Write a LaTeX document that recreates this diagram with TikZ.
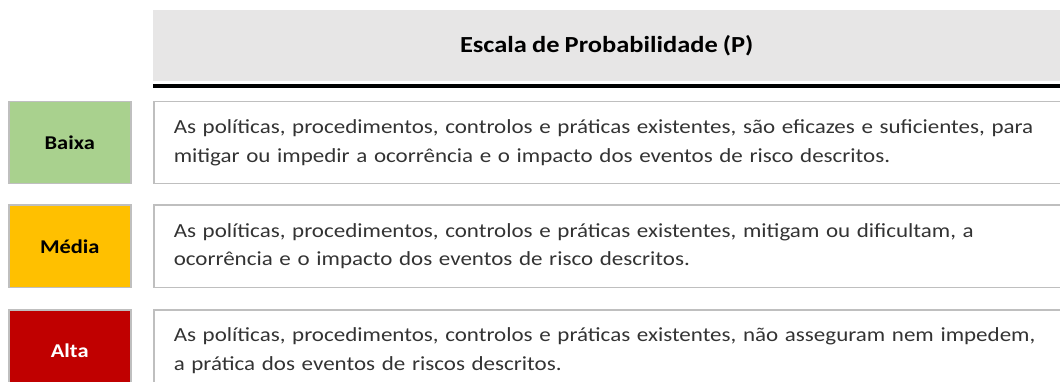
\documentclass[tikz,border=0pt]{standalone}
\usepackage{fontspec}
\setmainfont{Carlito}[FakeStretch=1.15,WordSpace=0.85]
\usepackage{tikz}
\usetikzlibrary{positioning}
\usepackage{xcolor}
\definecolor{lowgreen}{HTML}{A9D18E}
\definecolor{midyellow}{HTML}{FFC000}
\definecolor{highred}{HTML}{C00000}
\definecolor{headgray}{HTML}{E7E6E6}
\definecolor{boxgray}{HTML}{BFBFBF}

\begin{document}
\begin{tikzpicture}[
			% GLOBAL CFG
			x=1pt, y=-1pt,
			font=\fontsize{20}{28.5}\selectfont,
			% Styles
			header/.style={% For the title bar
				rectangle,
				fill=headgray,
				minimum width=907pt,
				minimum height=71pt,
				inner sep=0pt,
				font=\fontsize{23}{26}\selectfont\bfseries,
			},
			level/.style={% For the coloured level boxes
				rectangle,
				draw=boxgray,
				line width=1.5pt,
				minimum width=122pt,
				minimum height=82pt,
				inner sep=0pt,
				font=\fontsize{19.5}{24}\selectfont\bfseries,
			},
			desc/.style={% For the description boxes
				rectangle,
				draw=boxgray,
				line width=1.5pt,
				minimum width=910pt,
				minimum height=82pt,
				text width=900pt,
				inner xsep=20pt,
				inner ysep=0pt,
				align=left,
				text=black!80,
			},
			]
			\useasboundingbox (0,0) rectangle (1060,382);
			
			% Draw the title bar
			\node [header, anchor=north west] (head) at (153,10) {Escala de Probabilidade (P)};
			\draw [line width=3.5pt] ([yshift=-4.5pt]head.south west) -- ([yshift=-4.5pt]head.south east);
			
			% Draw the levels
			\node [level, fill=lowgreen, anchor=north west] (low) at (8,101) {Baixa};
			\node [level, fill=midyellow, below=20pt of low] (mid) {Média};
			\node [level, fill=highred, text=white, below=21pt of mid] (high) {Alta};
			
			% Draw the descriptions
			\node [desc, anchor=north west] (lowtxt) at (153,101) {As políticas, procedimentos, controlos e práticas existentes, são eficazes e suficientes, para\\ mitigar ou impedir a ocorrência e o impacto dos eventos de risco descritos.};
			\node [desc, anchor=west] (midtxt) at (153,0 |- mid) {As políticas, procedimentos, controlos e práticas existentes, mitigam ou dificultam, a\\ ocorrência e o impacto dos eventos de risco descritos.};
			\node [desc, anchor=west] (hightxt) at (153,0 |- high) {As políticas, procedimentos, controlos e práticas existentes, não asseguram nem impedem,\\ a prática dos eventos de riscos descritos.};
			
		\end{tikzpicture}
\end{document}
